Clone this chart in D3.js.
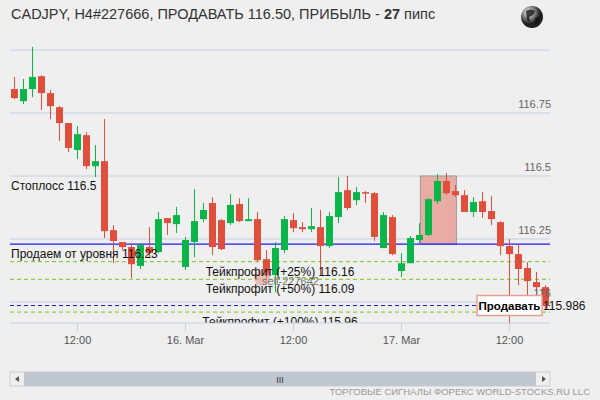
<!DOCTYPE html>
<html><head><meta charset="utf-8">
<script src="https://cdn.jsdelivr.net/npm/d3@7"></script>
<style>body{margin:0;background:#efefef}svg{font-family:"Liberation Sans",Arial,sans-serif}</style>
</head><body><svg id="c" width="600" height="400"></svg>
<script>
// hourly candles, 15 Mar 05:00 .. 17 Mar 16:00
const opens  = [116.845,116.797,116.845,116.896,116.829,116.773,116.710,116.603,116.662,116.539,116.559,116.285,116.238,116.218,116.143,116.218,116.198,116.333,116.309,116.139,116.238,116.329,116.393,116.325,116.313,116.389,116.321,116.329,116.170,116.107,116.206,116.325,116.297,116.289,116.297,116.222,116.337,116.444,116.404,116.436,116.432,116.214,116.337,116.123,116.154,116.246,116.266,116.400,116.480,116.440,116.424,116.357,116.400,116.361,116.317,116.222,116.190,116.135,116.079,116.059];
const highs  = [116.893,116.885,117.012,116.900,116.841,116.777,116.710,116.698,116.674,116.623,116.726,116.305,116.238,116.234,116.234,116.297,116.357,116.333,116.377,116.258,116.448,116.393,116.416,116.329,116.428,116.412,116.412,116.357,116.206,116.238,116.341,116.353,116.317,116.373,116.365,116.357,116.496,116.500,116.456,116.440,116.436,116.357,116.345,116.194,116.262,116.313,116.412,116.508,116.512,116.464,116.444,116.416,116.436,116.420,116.321,116.250,116.230,116.158,116.119,116.067];
const lows   = [116.805,116.785,116.813,116.762,116.726,116.639,116.595,116.567,116.527,116.496,116.254,116.154,116.206,116.095,116.131,116.178,116.194,116.266,116.274,116.127,116.178,116.317,116.186,116.206,116.305,116.317,116.321,116.158,116.087,116.039,116.194,116.277,116.277,116.277,116.107,116.214,116.313,116.365,116.385,116.393,116.242,116.214,116.186,116.099,116.154,116.234,116.262,116.389,116.424,116.416,116.357,116.337,116.333,116.305,116.186,115.916,116.067,116.020,116.012,115.968];
const closes = [116.809,116.845,116.893,116.829,116.777,116.710,116.611,116.666,116.539,116.559,116.281,116.242,116.218,116.150,116.226,116.194,116.329,116.313,116.345,116.246,116.321,116.365,116.218,116.210,116.385,116.321,116.329,116.166,116.107,116.214,116.329,116.293,116.289,116.301,116.222,116.341,116.436,116.373,116.436,116.432,116.258,116.345,116.190,116.154,116.254,116.266,116.408,116.480,116.432,116.424,116.357,116.397,116.357,116.329,116.222,116.190,116.131,116.083,116.059,115.984];
const gridLevels = [117.0, 116.75, 116.5, 116.25, 116.0];
const gridLabels = ["", "116.75", "116.5", "116.25", "116"];
const timeTickIdx = [7, 19, 31, 43, 55];
const timeTickLabels = ["12:00", "16. Mar", "12:00", "17. Mar", "12:00"];
const entry = 116.23, stopLoss = 116.5, current = 115.986;
const takeProfits = [116.16, 116.09, 115.96];
const tpLabels = ["Тейкпрофит (+25%) 116.16", "Тейкпрофит (+50%) 116.09", "Тейкпрофит (+100%) 115.96"];
const signalBox = [45.1, 49.1]; // candle index span
const sellIdx = 27.5, sellPrice = 116.10;

const svg = d3.select("#c");
const x = d3.scaleLinear().domain([0, 59]).range([14.5, 545.5]);
const y = d3.scaleLinear().domain([116, 117]).range([302, 50]);
const L = 10, R = 550, B = 323;

svg.append("rect").attr("width", 600).attr("height", 400).attr("fill", "#efefef");
svg.append("text").attr("x", 11).attr("y", 19).attr("font-size", 14.5).attr("fill", "#333")
  .html('CADJPY, H4#227666, ПРОДАВАТЬ 116.50, ПРИБЫЛЬ - <tspan font-weight="bold">27</tspan> пипс');

// globe
const gl = svg.append("g").attr("transform", "translate(532,17)");
const rg = svg.append("defs").append("radialGradient").attr("id", "gg").attr("cx", "35%").attr("cy", "30%");
rg.append("stop").attr("offset", "0").attr("stop-color", "#fff");
rg.append("stop").attr("offset", "1").attr("stop-color", "#222");
gl.append("circle").attr("r", 11).attr("fill", "url(#gg)");
gl.append("path").attr("d", "M-6,-6 Q-1,-9 3,-6 L1,-2 L-3,0 L-2,5 L-5,3 Z M3,1 L8,-1 L7,5 L3,8 Z").attr("fill", "#111").attr("opacity", 0.8);

const clip = svg.append("defs").append("clipPath").attr("id", "pc");
clip.append("rect").attr("x", L).attr("y", 20).attr("width", R - L).attr("height", B - 20);
const plot = svg.append("g").attr("clip-path", "url(#pc)");

gridLevels.forEach((g, i) => {
  plot.append("line").attr("x1", L).attr("x2", R).attr("y1", y(g)).attr("y2", y(g)).attr("stroke", "#c2d0de");
  svg.append("text").attr("x", 551).attr("y", y(g) - 5).attr("text-anchor", "end").attr("font-size", 11).attr("fill", "#666").text(gridLabels[i]);
});
svg.append("line").attr("x1", L).attr("x2", R).attr("y1", B).attr("y2", B).attr("stroke", "#c2d0de");

// signal box
plot.append("rect").attr("x", x(signalBox[0])).attr("width", x(signalBox[1]) - x(signalBox[0]))
  .attr("y", y(stopLoss)).attr("height", y(entry) - y(stopLoss))
  .attr("fill", "#e8aca4").attr("stroke", "#999");

// levels
plot.append("line").attr("x1", L).attr("x2", R).attr("y1", y(entry)).attr("y2", y(entry)).attr("stroke", "#1a1aff").attr("stroke-width", 1.3);
takeProfits.forEach(t => plot.append("line").attr("x1", L).attr("x2", R).attr("y1", y(t)).attr("y2", y(t))
  .attr("stroke", "#7cc41a").attr("stroke-dasharray", "4,3"));
plot.append("line").attr("x1", L).attr("x2", R).attr("y1", y(current)).attr("y2", y(current))
  .attr("stroke", "#1a1acc").attr("stroke-dasharray", "4,3");

// candles
const data = opens.map((o, i) => ({i, o, h: highs[i], l: lows[i], c: closes[i]}));
const cg = plot.selectAll(".cd").data(data).join("g");
cg.append("line").attr("x1", d => x(d.i)).attr("x2", d => x(d.i)).attr("y1", d => y(d.h)).attr("y2", d => y(d.l))
  .attr("stroke", d => d.c >= d.o ? "#0bb54a" : "#e04e3c");
cg.append("rect").attr("x", d => x(d.i) - 3.5).attr("width", 7)
  .attr("y", d => y(Math.max(d.o, d.c))).attr("height", d => Math.max(1.5, Math.abs(y(d.o) - y(d.c))))
  .attr("fill", d => d.c >= d.o ? "#0bb54a" : "#e04e3c");

// sell marker
plot.append("circle").attr("cx", x(sellIdx)).attr("cy", y(sellPrice) + 1).attr("r", 8).attr("fill", "#e89a8e").attr("opacity", 0.6);
plot.append("text").attr("x", 262).attr("y", 285).attr("font-size", 11).attr("fill", "#777").text("sell-227642");

// level labels
const lab = (t, xx, yy, anchor) => plot.append("text").attr("x", xx).attr("y", yy).attr("font-size", 12)
  .attr("text-anchor", anchor || "start").attr("fill", "#111").text(t);
lab("Стоплосс 116.5", 11, y(stopLoss) + 14);
lab("Продаем от уровня 116.23", 11, y(entry) + 14);
tpLabels.forEach((t, i) => lab(t, 280, y(takeProfits[i]) + 14, "middle"));

// current price tag
svg.append("rect").attr("x", 477).attr("y", y(current) - 10).attr("width", 65).attr("height", 20)
  .attr("fill", "#fff").attr("stroke", "#e8a096").attr("stroke-width", 1.5);
svg.append("text").attr("x", 509.5).attr("y", y(current) + 4).attr("text-anchor", "middle").attr("font-size", 11.5).attr("font-weight", "bold").text("Продавать");
svg.append("text").attr("x", 543).attr("y", y(current) + 4).attr("font-size", 12).attr("fill", "#111").text(current.toFixed(3));

// x axis
const ax = svg.append("g");
timeTickIdx.forEach((t, i) => {
  ax.append("line").attr("x1", x(t)).attr("x2", x(t)).attr("y1", B).attr("y2", B + 8).attr("stroke", "#c2d0de");
  ax.append("text").attr("x", x(t)).attr("y", 344).attr("text-anchor", "middle").attr("font-size", 11).attr("fill", "#555").text(timeTickLabels[i]);
});

// scrollbar
svg.append("rect").attr("x", 10).attr("y", 372).attr("width", 540).attr("height", 14).attr("fill", "#eee").attr("stroke", "#ccc");
svg.append("rect").attr("x", 24).attr("y", 372).attr("width", 512).attr("height", 14).attr("fill", "#bfc7d1");
svg.append("text").attr("x", 280).attr("y", 383).attr("text-anchor", "middle").attr("font-size", 9).attr("fill", "#333").text("III");
svg.append("path").attr("d", "M19,376 L15,379 L19,382 Z M542,376 L546,379 L542,382 Z").attr("fill", "#555");

svg.append("text").attr("x", 590).attr("y", 395).attr("text-anchor", "end").attr("font-size", 9.5).attr("fill", "#999")
  .text("ТОРГОВЫЕ СИГНАЛЫ ФОРЕКС WORLD-STOCKS.RU LLC");
</script></body></html>
